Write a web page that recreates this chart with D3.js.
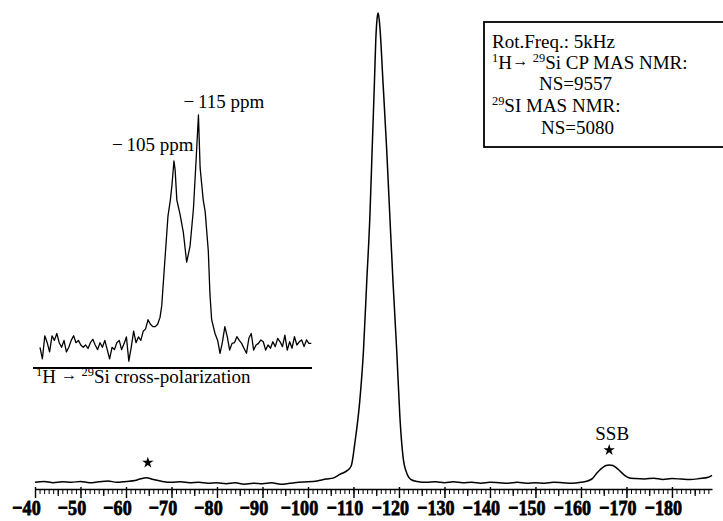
<!DOCTYPE html>
<html><head><meta charset="utf-8">
<script src="https://cdn.jsdelivr.net/npm/d3@7"></script>
<style>
body{margin:0;background:#fff}
svg{display:block;background:#fff}
text{font-family:"Liberation Serif","Times New Roman",serif;fill:#000}
</style>
</head><body>
<svg id="chart" width="723" height="521"></svg>
<script>
// ---------- DATA ----------
// main 29Si MAS NMR spectrum (ppm, relative intensity)
const mainPpm = [-40,-42,-44,-46,-48,-50,-52,-54,-56,-58,-60,-62,-63,-64.5,-66,-68,-70,-72,-74,-76,-78,-80,-82,-84,-86,-88,-90,-92,-94,-96,-98,-100,-102,-104,-105.5,-107,-108.6,-109.5,-110.3,-111.4,-112.2,-112.9,-113.6,-114.1,-114.6,-114.9,-115.3,-115.45,-115.8,-116.5,-117.3,-118,-118.7,-119.5,-120.2,-120.9,-121.7,-122.8,-124,-126,-128,-130,-132,-134,-136,-138,-140,-142,-144,-146,-148,-150,-152,-154,-156,-158,-160,-161,-162,-162.5,-163.5,-164.2,-165.5,-166.2,-167,-167.8,-168.7,-169.6,-170.5,-172,-174,-176,-178,-180,-182,-184,-186,-188,-188.8];
const mainInt = [-0.5,-0.3,-0.6,-0.4,-0.5,-0.3,-0.6,-0.4,-0.2,-0.5,-0.3,-0.1,0.2,0.5,0.1,-0.3,-0.5,-0.4,-0.6,-0.5,-0.7,-0.6,-0.8,-0.6,-0.9,-0.7,-0.8,-0.6,-0.9,-0.7,-0.5,-0.4,-0.2,0.2,0.4,1.2,2.0,3.0,7.9,17.1,27.8,42.2,56.3,70.7,85,94.2,99.6,100,97,85,70.7,56.3,42.2,27.8,13.5,4.9,1.5,0,-0.3,-0.5,-0.4,-0.6,-0.4,-0.6,-0.5,-0.7,-0.5,-0.6,-0.7,-0.5,-0.7,-0.6,-0.7,-0.5,-0.6,-0.7,-0.5,-0.3,0,0.3,1.5,2.2,3.1,3.2,3.1,2.6,1.8,1.0,0.5,0.3,0.2,0.4,0.1,0.3,0.2,0.1,0.3,0.6,1.0];

// inset: 1H -> 29Si cross-polarization spectrum
const insetPpm = [-49,-50,-51,-52,-53,-54,-55,-56,-57,-58,-59,-60,-61,-62,-63,-64,-65,-66,-67,-68,-69,-70,-71,-72,-73,-74,-75,-76,-77,-78,-79,-80,-81,-82,-83,-84,-85,-86,-87,-88,-89,-90,-91,-92,-93,-94,-95,-96,-97,-98,-99,-99.7,-102.3,-103.3,-104,-104.8,-105.3,-106,-107.3,-108.7,-110.1,-111.5,-112.9,-114,-115,-115.7,-117,-117.8,-119.1,-119.8,-120.5,-121.9,-123,-124,-125,-126,-127,-128,-129,-130,-131,-132,-133,-134,-135,-136,-137,-138,-139,-140,-141,-142,-143,-144,-145,-146,-147,-148,-149,-150,-151,-152,-153,-154,-155,-156,-157,-158,-159,-160,-161,-162];
const insetInt = [-1,-6,4,1,-3,4,2,5,1,-1,2,-3,-1,2,4,1,2,0,-1,0,-1.5,1,2.5,0,-2,1,-1,2,-2,-6,-1,-2,1,2,-2,0.5,3.5,-7,-1,6,1,3.5,2,6,7,11,9,8,8,9,12,17,56,63,70,80,76,63,57,49,36,43,59,80,100,77,63,58,41,22,11,5,2,-3.6,1.4,8,3.6,-2.2,0.7,1,3.6,2,0.7,-1.5,-3.6,2.9,5,-2.2,0,0.7,2.2,1.4,-2.2,0,-1.4,1.4,-0.7,2.9,1.4,-0.7,4.3,-2.2,1.4,-1.4,3.6,0,1.4,2.2,-0.7,2.2,0.7,0.7];

// axis ticks
const tickLabels = [-40,-50,-60,-70,-80,-90,-100,-110,-120,-130,-140,-150,-160,-170,-180];
// spinning side band markers
const starPpm = [-64.8, -166.2];
const starInt = [0.5, 3.2];
// inset peak labels
const insetPeakPpm = [-105, -115];
const insetPeakText = ["\u2212\u2009105 ppm", "\u2212\u2009115 ppm"];

// ---------- DRAW ----------
const svg = d3.select("#chart");
svg.append("rect").attr("width",723).attr("height",521).attr("fill","#fff");

const x = d3.scaleLinear().domain([-40,-188.8]).range([35,712]);
const y = d3.scaleLinear().domain([0,100]).range([480,13]);

// main spectrum
const mainData = mainPpm.map((p,i)=>[p, mainInt[i]]);
svg.append("path").datum(mainData)
  .attr("fill","none").attr("stroke","#000").attr("stroke-width",1.5)
  .attr("stroke-linejoin","round")
  .attr("d", d3.line().x(d=>x(d[0])).y(d=>y(d[1])).curve(d3.curveMonotoneX));

// axis: minor ticks every 1 ppm
const minorVals = d3.range(-40,-188.5,-1);
const gMinor = svg.append("g").attr("transform","translate(0,489)")
  .call(d3.axisBottom(x).tickValues(minorVals).tickSize(5).tickSizeOuter(0).tickFormat(""));
gMinor.select(".domain").attr("stroke","#000").attr("stroke-width",1.5);
gMinor.selectAll(".tick line").attr("stroke","#000").attr("stroke-width",1);
const midVals = d3.range(-45,-188.5,-10);
const gMid = svg.append("g").attr("transform","translate(0,489)")
  .call(d3.axisBottom(x).tickValues(midVals).tickSize(7).tickSizeOuter(0).tickFormat(""));
gMid.select(".domain").remove();
gMid.selectAll(".tick line").attr("stroke","#000").attr("stroke-width",1.2);
const gMajor = svg.append("g").attr("transform","translate(0,487)")
  .call(d3.axisBottom(x).tickValues(tickLabels).tickSize(11).tickSizeOuter(0).tickPadding(1)
    .tickFormat(d=>"\u2212"+Math.abs(d)));
gMajor.select(".domain").remove();
gMajor.selectAll(".tick line").attr("stroke","#000").attr("stroke-width",1.4);
gMajor.selectAll(".tick text")
  .style("font-family","'Liberation Serif',serif").style("font-weight","bold")
  .style("font-size","22px").style("fill","#000")
  .style("stroke","#000").style("stroke-width","0.8px")
  .attr("transform","translate(-9,0) scale(0.82,1)");

// stars
starPpm.forEach((p,i)=>{
  svg.append("path")
    .attr("d", d3.symbol(d3.symbolStar).size(40)())
    .attr("transform",`translate(${x(p)},${y(starInt[i])-15})`)
    .attr("fill","#000");
});
svg.append("text").attr("x", x(-166.2)+3).attr("y", y(3.2)-25)
  .attr("text-anchor","middle").attr("font-size",19).text("SSB");

// ---------- inset ----------
const xi = d3.scaleLinear().domain([-49,-162.3]).range([40,312]);
const yi = d3.scaleLinear().domain([0,100]).range([345,115]);
const insetData = insetPpm.map((p,i)=>[p, insetInt[i]]);
svg.append("path").datum(insetData)
  .attr("fill","none").attr("stroke","#000").attr("stroke-width",1.3)
  .attr("stroke-linejoin","round")
  .attr("d", d3.line().x(d=>xi(d[0])).y(d=>yi(d[1])));
svg.append("line").attr("x1",33).attr("x2",312).attr("y1",368).attr("y2",368)
  .attr("stroke","#000").attr("stroke-width",1.8);

svg.append("text").attr("x", xi(insetPeakPpm[0])+19).attr("y",151)
  .attr("text-anchor","end").attr("font-size",19).text(insetPeakText[0]);
svg.append("text").attr("x", xi(insetPeakPpm[1])-15).attr("y",108)
  .attr("text-anchor","start").attr("font-size",19).text(insetPeakText[1]);

// text with superscripts; each part: {t, sup?, arrow?}
function rich(xp, yp, parts, size){
  const t = svg.append("text").attr("x",xp).attr("y",yp).attr("font-size",size);
  let offset = 0;
  parts.forEach(pt=>{
    const ts = t.append("tspan").text(pt.t);
    let target = 0;
    if(pt.sup){ ts.attr("font-size", size*0.65); target = -size*0.38; }
    else if(pt.arrow){ ts.attr("font-size", size*0.85); target = -size*0.14; }
    if(target !== offset){ ts.attr("dy", target - offset); offset = target; }
  });
  return t;
}
rich(36, 383, [{t:"1",sup:true},{t:"H "},{t:"\u2192",arrow:true},{t:" "},{t:"29",sup:true},{t:"Si cross-polarization"}], 19);

// ---------- legend box ----------
svg.append("rect").attr("x",484).attr("y",22).attr("width",250).attr("height",125)
  .attr("fill","none").attr("stroke","#000").attr("stroke-width",1.8);
svg.append("text").attr("x",492).attr("y",48).attr("font-size",19).text("Rot.Freq.: 5kHz");
rich(492, 69, [{t:"1",sup:true},{t:"H"},{t:"\u2192",arrow:true},{t:" "},{t:"29",sup:true},{t:"Si CP MAS NMR:"}], 19);
svg.append("text").attr("x",539).attr("y",90).attr("font-size",19).text("NS=9557");
rich(492, 112, [{t:"29",sup:true},{t:"SI MAS NMR:"}], 19);
svg.append("text").attr("x",541).attr("y",134).attr("font-size",19).text("NS=5080");
</script>
</body></html>
